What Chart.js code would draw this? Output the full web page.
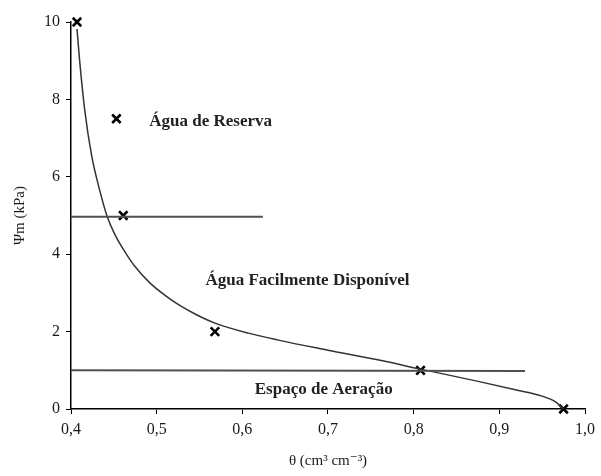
<!DOCTYPE html>
<html>
<head>
<meta charset="utf-8">
<script src="https://cdn.jsdelivr.net/npm/chart.js@4.4.0/dist/chart.umd.min.js"></script>
<style>
    html, body { margin: 0; padding: 0; background: #fff; }
    #wrap { width: 601px; height: 476px; }
</style>
</head>
<body>
<div id="wrap"><canvas id="chart"></canvas></div>
<script>
const measuredTheta = [0.407, 0.453, 0.461, 0.568, 0.808, 0.975],
    measuredPsi = [10, 7.5, 5, 2, 1, 0],
    curveTheta = [0.407, 0.410, 0.416, 0.424, 0.434, 0.442, 0.451, 0.463, 0.474, 0.492, 0.509, 0.526, 0.547, 0.568, 0.607, 0.642, 0.700, 0.758, 0.808, 0.874, 0.920, 0.949, 0.966, 0.975],
    curvePsi = [9.82, 9.02, 7.73, 6.56, 5.61, 4.99, 4.52, 4.06, 3.70, 3.26, 2.95, 2.69, 2.43, 2.22, 1.96, 1.78, 1.52, 1.27, 1.03, 0.72, 0.49, 0.34, 0.18, 0],
    upperLine = { theta: [0.4, 0.624], psi: [4.97, 4.97] },
    lowerLine = { theta: [0.4, 0.93], psi: [1.0, 0.98] },
    xTicks = [0.4, 0.5, 0.6, 0.7, 0.8, 0.9, 1.0],
    yTicks = [0, 2, 4, 6, 8, 10],
    zones = [
        { text: "Água de Reserva", x: 0.563, y: 7.42 },
        { text: "Água Facilmente Disponível", x: 0.676, y: 3.33 },
        { text: "Espaço de Aeração", x: 0.695, y: 0.49 },
    ];

const serif = "'Liberation Serif', 'DejaVu Serif', serif";

function pairs(xs, ys) {
    return xs.map((x, i) => ({ x: x, y: ys[i] }));
}

function comma(v, d) {
    return (+v).toFixed(d).replace(".", ",");
}

const zoneLabels = {
    id: "zoneLabels",
    afterDatasetsDraw(chart) {
        const { ctx, scales: { x, y } } = chart;
        ctx.save();
        ctx.font = "bold 17px " + serif;
        ctx.fillStyle = "#222";
        ctx.textAlign = "center";
        ctx.textBaseline = "middle";
        zones.forEach(z => {
            ctx.fillText(z.text, x.getPixelForValue(z.x), y.getPixelForValue(z.y));
        });
        ctx.restore();
    }
};

new Chart(document.getElementById("chart"), {
    type: "scatter",
    data: {
        datasets: [{
            type: "line",
            data: pairs(upperLine.theta, upperLine.psi),
            borderColor: "#505050",
            borderWidth: 2,
            pointRadius: 0,
        }, {
            type: "line",
            data: pairs(lowerLine.theta, lowerLine.psi),
            borderColor: "#505050",
            borderWidth: 2,
            pointRadius: 0,
        }, {
            type: "line",
            data: pairs(curveTheta, curvePsi),
            borderColor: "#333",
            borderWidth: 1.5,
            pointRadius: 0,
            cubicInterpolationMode: "monotone",
            clip: false,
        }, {
            data: pairs(measuredTheta, measuredPsi),
            pointStyle: "crossRot",
            pointRadius: 6,
            borderWidth: 2.5,
            borderColor: "#000",
            backgroundColor: "#000",
            clip: false,
        }]
    },
    options: {
        responsive: true,
        maintainAspectRatio: false,
        animation: false,
        layout: {
            padding: { top: 22, right: 12, left: 0, bottom: 0 }
        },
        plugins: {
            legend: { display: false },
            tooltip: { enabled: false },
        },
        scales: {
            x: {
                type: "linear",
                min: 0.4,
                max: 1.0,
                afterBuildTicks: scale => {
                    scale.ticks = xTicks.map(v => ({ value: v }));
                },
                afterFit: scale => {
                    scale.height = 67;
                },
                grid: {
                    drawOnChartArea: false,
                    drawTicks: true,
                    tickLength: 5,
                    color: "#000",
                },
                border: { color: "#000", width: 1.5 },
                ticks: {
                    color: "#1a1a1a",
                    padding: 6,
                    font: { family: serif, size: 16 },
                    callback: v => comma(v, 1),
                },
                title: {
                    display: true,
                    text: "θ (cm³ cm⁻³)",
                    color: "#1a1a1a",
                    font: { family: serif, size: 15 },
                    padding: { top: 8, bottom: 6 },
                },
            },
            y: {
                type: "linear",
                min: 0,
                max: 10,
                afterBuildTicks: scale => {
                    scale.ticks = yTicks.map(v => ({ value: v }));
                },
                afterFit: scale => {
                    scale.width = 71;
                },
                grid: {
                    drawOnChartArea: false,
                    drawTicks: true,
                    tickLength: 5,
                    color: "#000",
                },
                border: { color: "#000", width: 1.5 },
                ticks: {
                    color: "#1a1a1a",
                    padding: 6,
                    font: { family: serif, size: 16 },
                },
                title: {
                    display: true,
                    text: "Ψm (kPa)",
                    color: "#1a1a1a",
                    font: { family: serif, size: 15 },
                    padding: { top: 11, bottom: 0 },
                },
            },
        },
    },
    plugins: [zoneLabels],
});
</script>
</body>
</html>
